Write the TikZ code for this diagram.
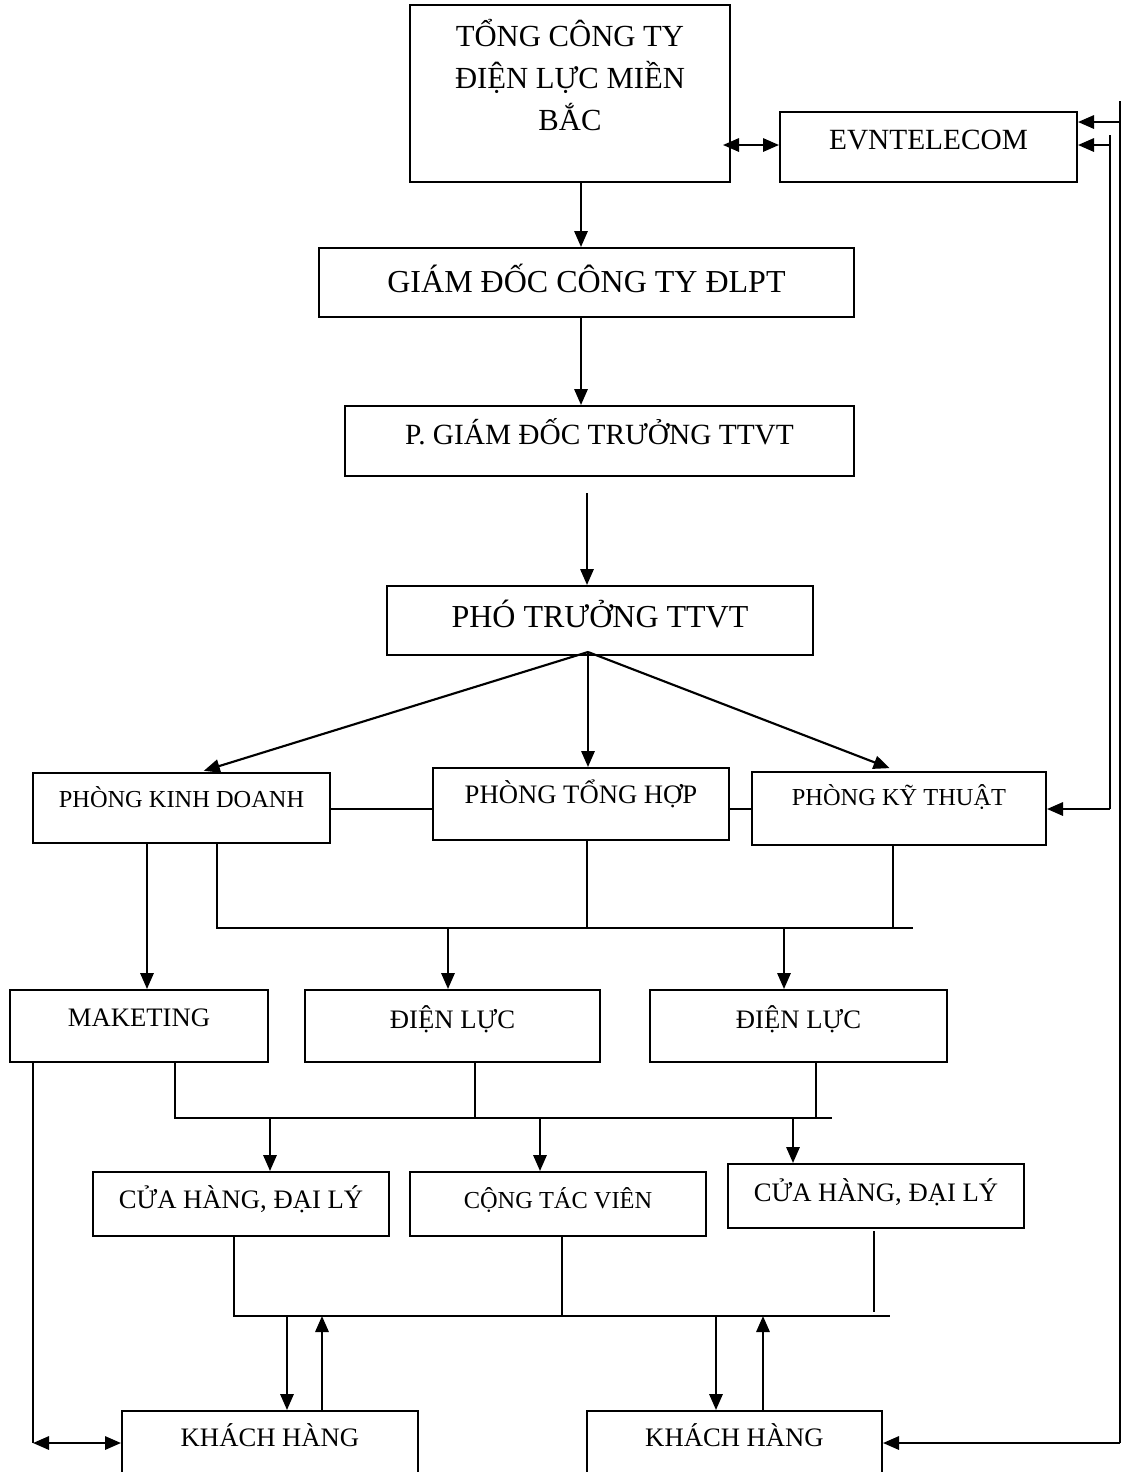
\documentclass[tikz,border=0pt]{standalone}
\usepackage{fontspec}
\setmainfont{Liberation Serif}
\usetikzlibrary{arrows.meta}

\tikzset{
  box/.style={draw, line width=1.5pt, inner sep=0pt},
  boxsize/.style 2 args={minimum width=#1*0.75pt, minimum height=#2*0.75pt},
  fa/.style={font=\fontsize{24pt}{24pt}\selectfont, text height=15.7pt},
  fb/.style={font=\fontsize{22pt}{22pt}\selectfont, text height=14.4pt},
  fc/.style={font=\fontsize{20pt}{20pt}\selectfont, text height=13.1pt},
  fd/.style={font=\fontsize{18.3pt}{18.3pt}\selectfont, text height=12pt},
  lift/.style={text depth=#1},
  arr/.style={line width=1.6pt, -{Triangle[length=12pt,width=10pt]}},
  dbl/.style={line width=1.6pt, {Triangle[length=12pt,width=10pt]}-{Triangle[length=12pt,width=10pt]}},
  wire/.style={line width=1.6pt},
  bus/.style={line width=1.1pt},
}

\begin{document}
\begin{tikzpicture}[x=0.75pt,y=0.75pt,yscale=-1,xscale=1]
	\useasboundingbox (0,0) rectangle (1128,1472);
	% boxes
	\node[box, boxsize={320}{177}, text height=0pt, text depth=7pt, font=\fontsize{23pt}{31.5pt}\selectfont] (tct) at (570,93.5) {\begin{tabular}{@{}c@{}}TỔNG CÔNG TY\\ĐIỆN LỰC MIỀN\\BẮC\end{tabular}};
	\node[box, boxsize={297}{70}, fb, lift=10.5pt] (evn) at (928.5,147) {EVNTELECOM};
	\node[box, boxsize={535}{69}, fa, lift=0pt] (gd) at (586.5,282.5) {GIÁM ĐỐC CÔNG TY ĐLPT};
	\node[box, boxsize={509}{70}, fb, lift=9pt] (pgd) at (599.5,441) {P. GIÁM ĐỐC TRƯỞNG TTVT};
	\node[box, boxsize={426}{69}, fa, lift=5.25pt] (pho) at (600,620.5) {PHÓ TRƯỞNG TTVT};
	\node[box, boxsize={297}{70}, fd, lift=13.5pt] (pkd) at (181.5,808) {PHÒNG KINH DOANH};
	\node[box, boxsize={296}{72}, fc, lift=13.5pt] (pth) at (581,804) {PHÒNG TỔNG HỢP};
	\node[box, boxsize={294}{73}, fd, lift=17.25pt] (pkt) at (899,808.5) {PHÒNG KỸ THUẬT};
	\node[box, boxsize={258}{72}, fc, lift=12pt] (mkt) at (139,1026) {MAKETING};
	\node[box, boxsize={295}{72}, fc, lift=9pt] (dl1) at (452.5,1026) {ĐIỆN LỰC};
	\node[box, boxsize={297}{72}, fc, lift=9pt] (dl2) at (798.5,1026) {ĐIỆN LỰC};
	\node[box, boxsize={296}{64}, fc, lift=6pt] (ch1) at (241,1204) {CỬA HÀNG, ĐẠI LÝ};
	\node[box, boxsize={296}{64}, fd, lift=6pt] (ctv) at (558,1204) {CỘNG TÁC VIÊN};
	\node[box, boxsize={296}{64}, fc, lift=4.5pt] (ch2) at (876,1196) {CỬA HÀNG, ĐẠI LÝ};
	\node[box, boxsize={296}{72}, fc, lift=13.5pt] (kh1) at (270,1447) {KHÁCH HÀNG};
	\node[box, boxsize={295}{72}, fc, lift=13.5pt] (kh2) at (734.5,1447) {KHÁCH HÀNG};
	% free ends
	\coordinate (pgdout) at (587,493);
	\coordinate (fan) at (588,652);
	\coordinate (rtop) at (1120,101);
	\coordinate (rbot) at (1120,1443);
	\coordinate (itop) at (1110,135);
	\coordinate (ibot) at (1110,809);
	\coordinate (lbot) at (33,1443);
	% top chain
	\draw[arr] (581,0 |- tct.south) -- (581,0 |- gd.north);
	\draw[arr] (581,0 |- gd.south) -- (581,0 |- pgd.north);
	\draw[arr] (pgdout) -- (587,0 |- pho.north);
	\draw[dbl, shorten <=-6pt] (tct.east |- 0,145) -- (evn.west |- 0,145);
	\draw[arr, shorten >=3pt] (fan) -- (200,0 |- pkd.north);
	\draw[arr] (fan) -- (588,0 |- pth.north);
	\draw[arr, shorten >=6pt] (fan) -- (897,0 |- pkt.north);
	% right side returns
	\draw[wire] (rtop) -- (rbot);
	\draw[arr] (1120,122) -- (evn.east |- 0,122);
	\draw[arr] (rbot) -- (kh2.east |- rbot);
	\draw[wire] (itop) -- (ibot);
	\draw[arr] (1110,145) -- (evn.east |- 0,145);
	\draw[arr] (ibot) -- (pkt.east |- ibot);
	% links between the three offices
	\draw[bus] (pkd.east |- 0,809) -- (pth.west |- 0,809);
	\draw[bus] (pth.east |- 0,809) -- (pkt.west |- 0,809);
	% first bus
	\draw[arr] (147,0 |- pkd.south) -- (147,0 |- mkt.north);
	\draw[bus] (217,0 |- pkd.south) |- (913,928);
	\draw[bus] (587,0 |- pth.south) -- (587,928);
	\draw[bus] (893,0 |- pkt.south) -- (893,928);
	\draw[arr] (448,928) -- (448,0 |- dl1.north);
	\draw[arr] (784,928) -- (784,0 |- dl2.north);
	% marketing to customers
	\draw[wire] (33,0 |- mkt.south) -- (lbot);
	\draw[dbl] (lbot) -- (kh1.west |- lbot);
	% second bus
	\draw[bus] (175,0 |- mkt.south) |- (832,1118);
	\draw[bus] (475,0 |- dl1.south) -- (475,1118);
	\draw[bus] (816,0 |- dl2.south) -- (816,1118);
	\draw[arr] (270,1118) -- (270,0 |- ch1.north);
	\draw[arr] (540,1118) -- (540,0 |- ctv.north);
	\draw[arr] (793,1118) -- (793,0 |- ch2.north);
	% third bus
	\draw[bus] (234,0 |- ch1.south) |- (890,1316);
	\draw[bus] (562,0 |- ctv.south) -- (562,1316);
	\draw[bus] (874,1231) -- (874,1312);
	\draw[arr] (287,1316) -- (287,0 |- kh1.north);
	\draw[arr] (322,0 |- kh1.north) -- (322,1316);
	\draw[arr] (716,1316) -- (716,0 |- kh2.north);
	\draw[arr] (763,0 |- kh2.north) -- (763,1316);
\end{tikzpicture}
\end{document}
